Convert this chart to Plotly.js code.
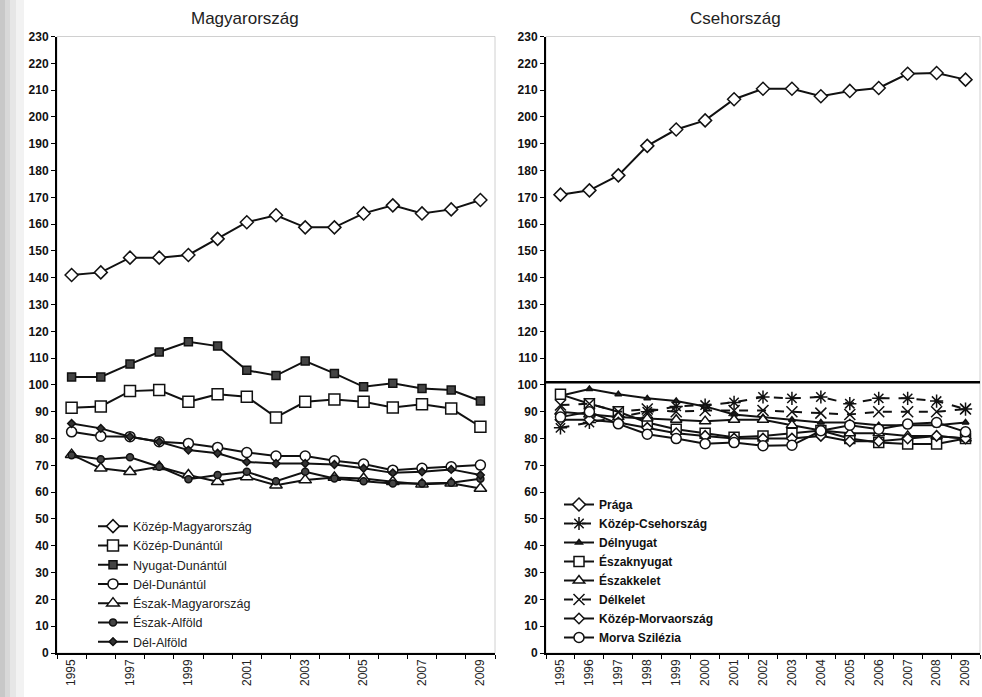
<!DOCTYPE html>
<html><head><meta charset="utf-8">
<script src="https://cdn.plot.ly/plotly-3.0.1.min.js"></script>
<style>html,body{margin:0;padding:0;background:#fff}#chart{width:982px;height:697px}</style>
</head><body><div id="chart"></div>
<script>
// ---- categories / tick labels ----
const years = ['1995','1996','1997','1998','1999','2000','2001','2002','2003','2004','2005','2006','2007','2008','2009'];
const tickTextHU = ['1995','','1997','','1999','','2001','','2003','','2005','','2007','','2009'];
const tickTextCZ = years;

// ---- Magyarország ----
const kozepMagyarorszag = [141,142,147.5,147.5,148.5,154.5,160.7,163.3,158.8,158.8,164,167,164,165.5,169];
const kozepDunantul     = [91.5,92,97.7,98.1,93.7,96.5,95.6,87.9,93.7,94.6,93.7,91.6,92.8,91.2,84.4];
const nyugatDunantul    = [103,103,107.8,112.3,116.1,114.5,105.5,103.5,108.9,104.3,99.3,100.6,98.7,98.1,94];
const delDunantul       = [82.5,80.9,80.7,78.8,78.2,76.7,74.8,73.5,73.5,71.7,70.5,68.2,68.9,69.5,70.1];
const eszakMagyarorszag = [74,68.9,67.6,69.5,66.4,63.9,65.7,62.6,64.5,65.5,65.1,63.9,63,63.3,61.4];
const eszakAlfold       = [73.8,72.3,73,69.5,64.8,66.4,67.6,64.1,67.6,65.1,64.1,63.2,63.2,63.5,65];
const delAlfold         = [85.6,83.8,80.7,78.8,75.7,74.5,71.3,70.7,70.7,70.3,68.9,67.2,67.6,68.5,66.4];

// ---- Csehország ----
const praga              = [171,172.6,178.2,189.2,195.3,198.7,206.6,210.5,210.5,207.7,209.7,210.8,216.1,216.4,213.9];
const kozepCsehorszag    = [84,86,88,90,92,92.5,93.5,95.5,95,95.5,93,95,95,94,91];
const delnyugat          = [96,98.5,96.5,95,94,92,89,88,87,86,86,85,85,85,86];
const eszaknyugat        = [96.5,93,90,86,83.5,82,80.5,81,82,83,80,78.5,78,78,80];
const eszakkelet         = [90,89,88,87.5,87,86.5,87,87,85,83,82,82,81,81,80];
const delkelet           = [92.5,93,90,91,90,90.5,90.5,90.5,90,89.5,89,90,90,90,91];
const kozepMorvaorszag   = [87,87,86,84,82,81,80,80,80,81,79,79,80,81,80];
const morvaSzilezia      = [88,90,85.5,81.6,80,78.1,78.5,77.3,77.5,82.9,85,83.5,85.4,86,82.5];
const czReference        = 101;

const W = 982, H = 697;
const px = x => x / W;
const py = y => 1 - y / H;
const INK = '#111';

function tr(name, y, ax, legend, sym, size, fill, lw, dash, mlw) {
  return {
    type: 'scatter', mode: 'lines+markers', name: name, x: years, y: y,
    xaxis: ax === 1 ? 'x' : 'x2', yaxis: ax === 1 ? 'y' : 'y2', legend: legend,
    line: {color: INK, width: lw || 2, dash: dash || 'solid'},
    marker: {symbol: sym, size: size, color: fill, line: {color: INK, width: mlw == null ? 1.5 : mlw}},
    cliponaxis: false
  };
}

const data = [
  tr('Közép-Magyarország', kozepMagyarorszag, 1, 'legend', 'diamond', 10, '#fff'),
  tr('Közép-Dunántúl', kozepDunantul, 1, 'legend', 'square', 11, '#fff'),
  tr('Nyugat-Dunántúl', nyugatDunantul, 1, 'legend', 'square', 8, '#444'),
  tr('Dél-Dunántúl', delDunantul, 1, 'legend', 'circle', 10, '#fff'),
  tr('Észak-Magyarország', eszakMagyarorszag, 1, 'legend', 'triangle-up', 11, '#fff'),
  tr('Észak-Alföld', eszakAlfold, 1, 'legend', 'circle', 7, '#444'),
  tr('Dél-Alföld', delAlfold, 1, 'legend', 'diamond', 6, '#333'),

  tr('Prága', praga, 2, 'legend2', 'diamond', 10, '#fff'),
  tr('Közép-Csehország', kozepCsehorszag, 2, 'legend2', 'asterisk-open', 11, INK, 2, 'dash', 1.5),
  tr('Délnyugat', delnyugat, 2, 'legend2', 'triangle-up', 6, '#222'),
  tr('Északnyugat', eszaknyugat, 2, 'legend2', 'square', 10, '#fff'),
  tr('Északkelet', eszakkelet, 2, 'legend2', 'triangle-up', 10, '#fff'),
  tr('Délkelet', delkelet, 2, 'legend2', 'x-thin-open', 11, INK, 2, 'dash', 1.5),
  tr('Közép-Morvaország', kozepMorvaorszag, 2, 'legend2', 'diamond', 8, '#fff'),
  tr('Morva Szilézia', morvaSzilezia, 2, 'legend2', 'circle', 10, '#fff')
];

const yTickFont = {family: 'Liberation Sans, Arial, sans-serif', size: 12, color: '#111', weight: 'bold'};
const xTickFont = {family: 'Liberation Sans, Arial, sans-serif', size: 12, color: '#222'};

function yAxis(anchor) {
  return {
    anchor: anchor, domain: [py(653), py(36.5)], range: [0, 230], dtick: 10, tick0: 0,
    ticks: 'outside', ticklen: 4, tickwidth: 1, tickcolor: '#000',
    showline: true, linecolor: '#000', linewidth: 2, showgrid: false, zeroline: false,
    tickfont: yTickFont, fixedrange: true
  };
}
function xAxis(anchor, d0, d1, text) {
  return {
    anchor: anchor, domain: [px(d0), px(d1)], type: 'category', range: [-0.5, 14.5],
    tickmode: 'array', tickvals: years, ticktext: text, tickangle: -90, tickson: 'boundaries',
    ticks: 'outside', ticklen: 4, tickwidth: 1, tickcolor: '#000',
    showline: true, linecolor: '#000', linewidth: 1.5, showgrid: false, zeroline: false,
    tickfont: xTickFont, fixedrange: true
  };
}

const legFont1 = {family: 'Liberation Sans, Arial, sans-serif', size: 12.5, color: '#222'};
const legFont2 = {family: 'Liberation Sans, Arial, sans-serif', size: 12, color: '#111', weight: 'bold'};

const layout = {
  width: W, height: H, margin: {l: 0, r: 0, t: 0, b: 0},
  paper_bgcolor: '#fff', plot_bgcolor: 'rgba(0,0,0,0)',
  showlegend: true,
  xaxis: xAxis('y', 57, 495, tickTextHU),
  yaxis: yAxis('x'),
  xaxis2: xAxis('y2', 546, 980, tickTextCZ),
  yaxis2: yAxis('x2'),
  legend: {x: px(93), y: py(584), xanchor: 'left', yanchor: 'middle', bgcolor: 'rgba(0,0,0,0)',
           font: legFont1, itemwidth: 30, itemclick: false, itemdoubleclick: false},
  legend2: {x: px(559), y: py(571), xanchor: 'left', yanchor: 'middle', bgcolor: 'rgba(0,0,0,0)',
           font: legFont2, itemwidth: 30, itemclick: false, itemdoubleclick: false},
  annotations: [
    {text: 'Magyarország', xref: 'paper', yref: 'paper', x: px(245), y: py(18), xanchor: 'center', yanchor: 'middle',
     showarrow: false, font: {family: 'Liberation Sans, Arial, sans-serif', size: 17, color: '#222'}},
    {text: 'Csehország', xref: 'paper', yref: 'paper', x: px(735), y: py(18), xanchor: 'center', yanchor: 'middle',
     showarrow: false, font: {family: 'Liberation Sans, Arial, sans-serif', size: 17, color: '#222'}}
  ],
  shapes: [
    {type: 'rect', xref: 'paper', yref: 'paper', x0: 0, x1: px(5), y0: 0, y1: 1, fillcolor: '#c8c8c8', line: {width: 0}, layer: 'below'},
    {type: 'rect', xref: 'paper', yref: 'paper', x0: px(5), x1: px(10), y0: 0, y1: 1, fillcolor: '#d8d8d8', line: {width: 0}, layer: 'below'},
    {type: 'rect', xref: 'paper', yref: 'paper', x0: px(10), x1: px(16), y0: 0, y1: 1, fillcolor: '#e6e6e6', line: {width: 0}, layer: 'below'},
    {type: 'rect', xref: 'paper', yref: 'paper', x0: px(16), x1: px(24), y0: 0, y1: 1, fillcolor: '#f2f2f2', line: {width: 0}, layer: 'below'},
    {type: 'rect', xref: 'x domain', yref: 'y domain', x0: 0, x1: 1, y0: 0, y1: 1, line: {color: '#d0d0d0', width: 1}, layer: 'below'},
    {type: 'rect', xref: 'x2 domain', yref: 'y2 domain', x0: 0, x1: 1, y0: 0, y1: 1, line: {color: '#d0d0d0', width: 1}, layer: 'below'},
    {type: 'line', xref: 'x2 domain', yref: 'y2', x0: 0, x1: 1, y0: czReference, y1: czReference, line: {color: '#000', width: 2.5}}
  ]
};

Plotly.newPlot('chart', data, layout, {staticPlot: true, displayModeBar: false});
</script>
</body></html>
